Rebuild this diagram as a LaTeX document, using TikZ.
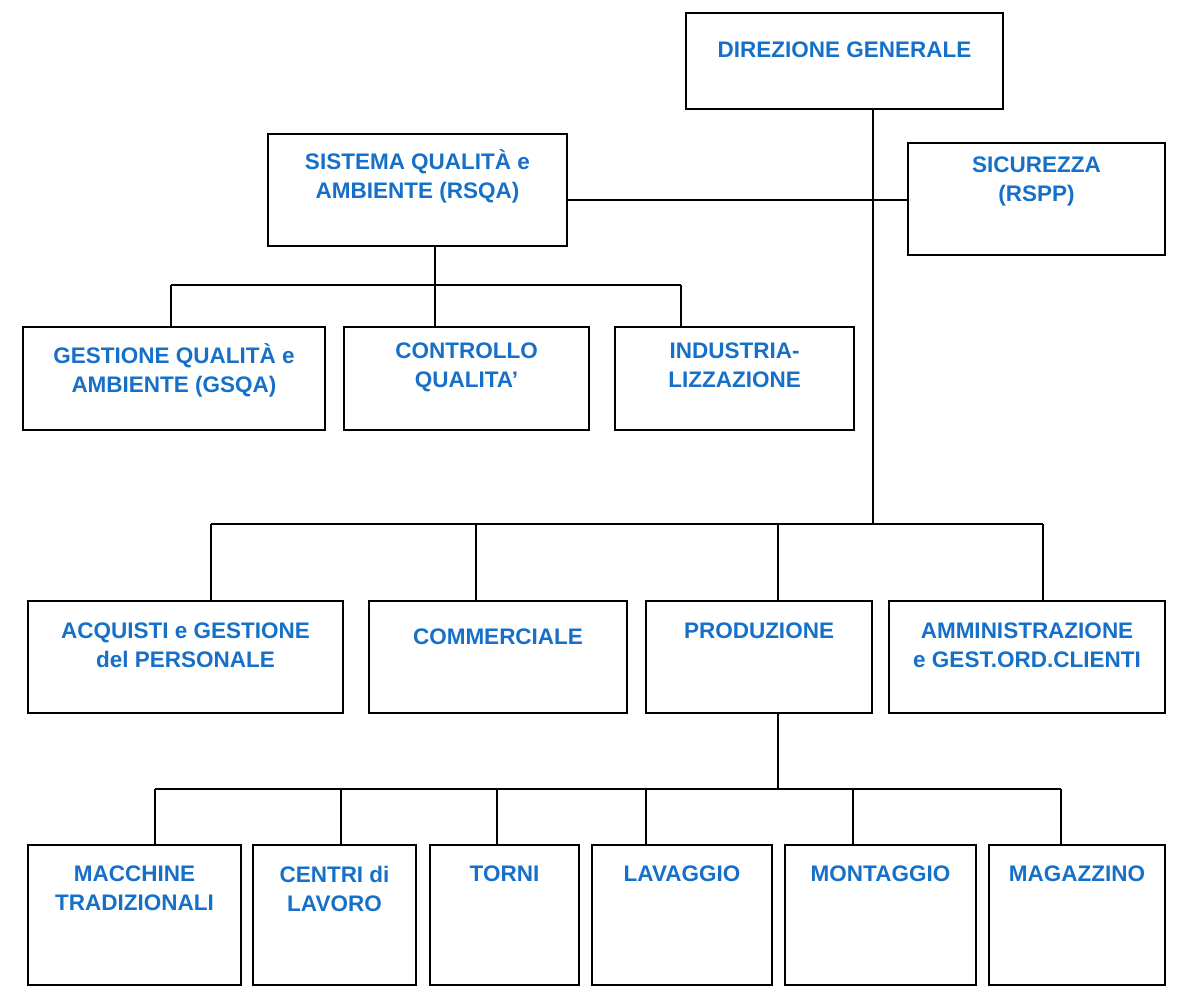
\documentclass[tikz,border=0pt]{standalone}
\usepackage{fontspec}
\setmainfont{Liberation Sans}
\definecolor{txt}{RGB}{22,112,200}
\begin{document}
\begin{tikzpicture}[x=1pt,y=-1pt,
  box/.style={draw=black,line width=1.3pt,inner sep=0pt},
  lab/.style={text=txt,font=\fontsize{22.5}{29}\selectfont\bfseries,align=center,anchor=north,inner sep=0pt},
  ln/.style={line width=1.3pt}]
\useasboundingbox (0,0) rectangle (1200,995);
\newcommand\bx[7]{%
  \node[box,minimum width={#4-#2},minimum height={#5-#3}] (#1) at ({(#2+#4)/2},{(#3+#5)/2}) {};
  \node[lab] (#1t) at ({(#2+#4)/2},{#6+5}) {#7};}
\bx{dg}{686}{13}{1003}{109}{37}{DIREZIONE GENERALE}
\bx{sqa}{268}{134}{567}{246}{144}{SISTEMA QUALITÀ e\\AMBIENTE (RSQA)}
\bx{sic}{908}{143}{1165}{255}{152}{SICUREZZA\\(RSPP)}
\bx{gsqa}{23}{327}{325}{430}{338}{GESTIONE QUALITÀ e\\AMBIENTE (GSQA)}
\bx{cq}{344}{327}{589}{430}{338}{CONTROLLO\\QUALITA’}
\bx{ind}{615}{327}{854}{430}{338}{INDUSTRIA-\\LIZZAZIONE}
\bx{acq}{28}{601}{343}{713}{618}{ACQUISTI e GESTIONE\\del PERSONALE}
\bx{com}{369}{601}{627}{713}{624}{COMMERCIALE}
\bx{prod}{646}{601}{872}{713}{618}{PRODUZIONE}
\bx{amm}{889}{601}{1165}{713}{618}{AMMINISTRAZIONE\\e GEST.ORD.CLIENTI}
\bx{mac}{28}{845}{241}{985}{861}{MACCHINE\\TRADIZIONALI}
\bx{cen}{253}{845}{416}{985}{861}{CENTRI di\\LAVORO}
\bx{tor}{430}{845}{579}{985}{861}{TORNI}
\bx{lav}{592}{845}{772}{985}{861}{LAVAGGIO}
\bx{mon}{785}{845}{976}{985}{861}{MONTAGGIO}
\bx{mag}{989}{845}{1165}{985}{861}{MAGAZZINO}
\coordinate (j1) at (873,524);
\coordinate (j2) at (435,285);
\coordinate (j3) at (778,789);
\draw[ln] (873,109) -- (j1);
\draw[ln] (sqa.east |- 0,200) -- (sic.west |- 0,200);
\draw[ln] (sqa.south -| j2) -- (j2);
\draw[ln] (171,285) -- (681,285);
\foreach \x/\n in {171/gsqa,435/cq,681/ind} \draw[ln] (\x,285) -- (\n.north -| \x,0);
\draw[ln] (211,524) -- (1043,524);
\foreach \x/\n in {211/acq,476/com,778/prod,1043/amm} \draw[ln] (\x,524) -- (\n.north -| \x,0);
\draw[ln] (prod.south -| j3) -- (j3);
\draw[ln] (155,789) -- (1061,789);
\foreach \x/\n in {155/mac,341/cen,497/tor,646/lav,853/mon,1061/mag} \draw[ln] (\x,789) -- (\n.north -| \x,0);
\end{tikzpicture}
\end{document}
